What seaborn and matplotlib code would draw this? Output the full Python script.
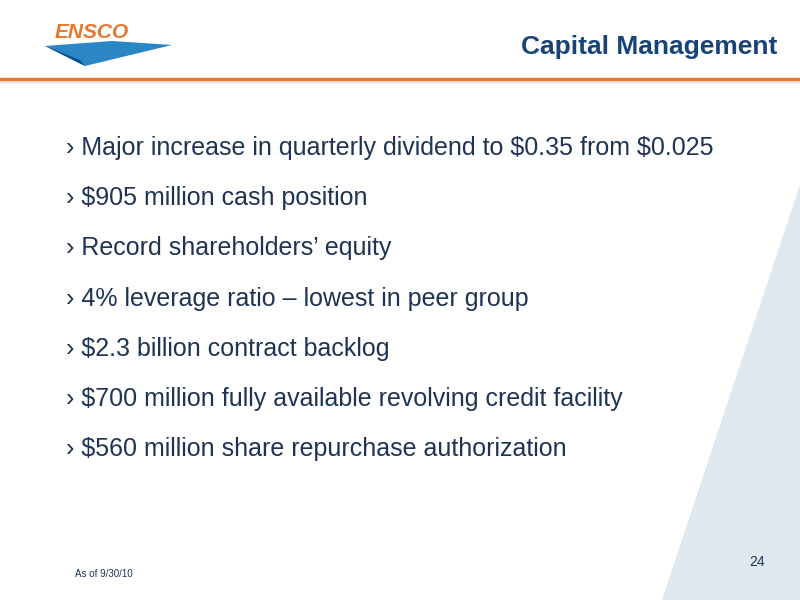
import matplotlib
matplotlib.use("Agg")
import matplotlib.pyplot as plt
import seaborn as sns
from matplotlib.patches import Polygon

sns.set_style("white")
plt.rcParams['font.family'] = ['Liberation Sans', 'DejaVu Sans']
plt.rcParams['text.parse_math'] = False

title = "Capital Management"
bullets = [
    "Major increase in quarterly dividend to $0.35 from $0.025",
    "$905 million cash position",
    "Record shareholders\u2019 equity",
    "4% leverage ratio \u2013 lowest in peer group",
    "$2.3 billion contract backlog",
    "$700 million fully available revolving credit facility",
    "$560 million share repurchase authorization",
]
page_no = "24"
footnote = "As of 9/30/10"

fig = plt.figure(figsize=(8, 6), dpi=100)
ax = fig.add_axes([0, 0, 1, 1])
ax.set_xlim(0, 800)
ax.set_ylim(600, 0)
ax.axis("off")

# light background wedge on the right
ax.add_patch(Polygon([(800, 185), (800, 600), (662, 600)], closed=True,
                     facecolor="#dfe7ef", edgecolor="none"))

# logo
ax.text(55, 32, "ENSCO", color="#e8762d", fontsize=15, fontweight="bold",
        fontstyle="italic", va="center", ha="left")
ax.add_patch(Polygon([(45, 46), (112, 41), (172, 45), (85, 66)], closed=True,
                     facecolor="#2a86c4", edgecolor="none"))
ax.add_patch(Polygon([(45, 46), (80, 60), (85, 66)], closed=True,
                     facecolor="#0d4f8a", edgecolor="none"))

ax.text(777, 47, title, color="#17427a", fontsize=19, fontweight="bold",
        ha="right", va="center")
ax.plot([0, 800], [79, 79], color="#e8762d", lw=2.5)
ax.plot([0, 800], [81.5, 81.5], color="#dddddd", lw=1)

for i, b in enumerate(bullets):
    ax.text(66, 148 + i * 50.2, "\u203a " + b, fontsize=18, color="#1f3355",
            ha="left", va="center")

ax.text(757, 562, page_no, fontsize=10, color="#1f3355", ha="center", va="center")
ax.text(75, 574, footnote, fontsize=7, color="#1f3355", ha="left", va="center")

fig.savefig("out.png", dpi=100)
